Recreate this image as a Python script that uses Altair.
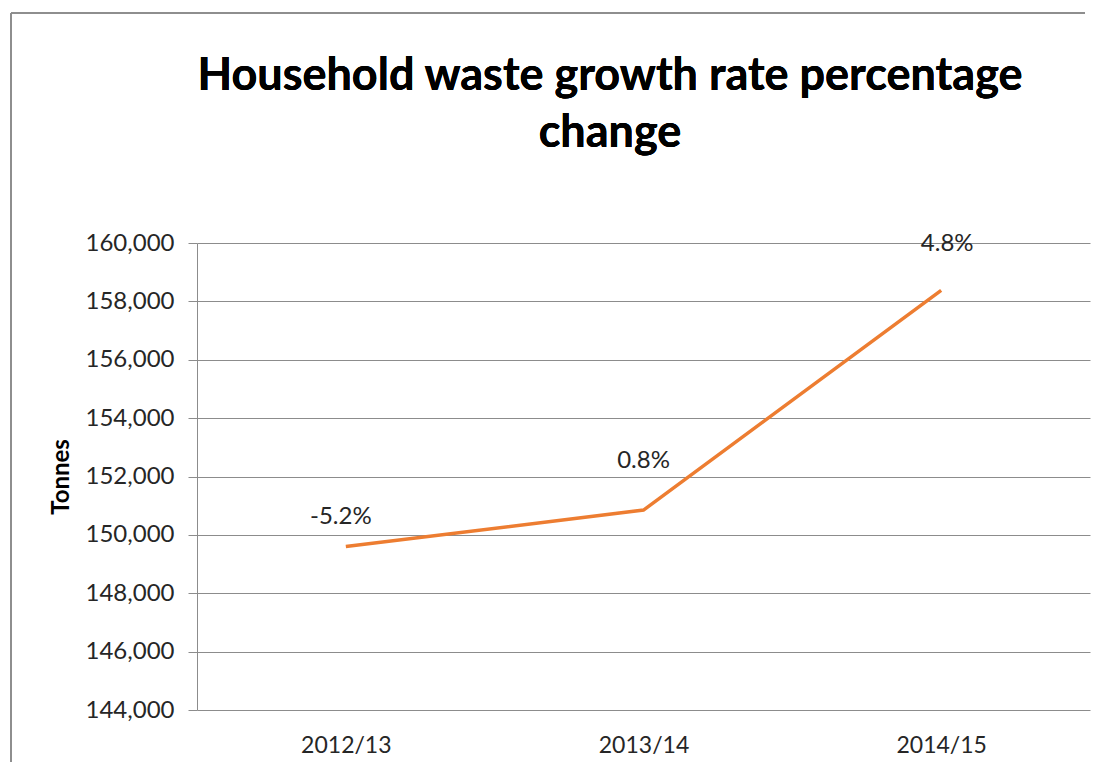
import altair as alt
import pandas as pd

years = ["2012/13", "2013/14", "2014/15"]
tonnes = [149600, 150850, 158380]
growth_labels = ["-5.2%", "0.8%", "4.8%"]
title_lines = ["Household waste growth rate percentage", "change"]

df = pd.DataFrame({"year": years, "tonnes": tonnes, "label": growth_labels})

FONT = "Lato"
W, H = 893, 467

x_enc = alt.X("year:N", sort=years,
              scale=alt.Scale(type="point", padding=0.5),
              axis=alt.Axis(title=None, domain=False, ticks=False, grid=False,
                            labelFontSize=23, labelFont=FONT, labelColor="#262626",
                            labelPadding=24, labelAngle=0))
y_enc = alt.Y("tonnes:Q",
              scale=alt.Scale(domain=[144000, 160000], nice=False, zero=False),
              axis=alt.Axis(title="Tonnes", values=list(range(144000, 160001, 2000)),
                            format=",d", labelFontSize=24, labelFont=FONT,
                            labelColor="#262626", labelPadding=14,
                            tickSize=9, tickColor="#8c8c8c", domainColor="#8c8c8c",
                            gridColor="#8c8c8c", gridWidth=1,
                            titleFont=FONT, titleFontSize=24, titleFontWeight="bold",
                            titleColor="#000000", titlePadding=12))

# outer chart frame: top and left edges only (the others lie outside the picture)
border_top = alt.Chart(df).mark_rule(stroke="#8c8c8c", strokeWidth=1.5, clip=False).encode(
    x=alt.value(-186), x2=alt.value(W - 5), y=alt.value(-230))
border_left = alt.Chart(df).mark_rule(stroke="#8c8c8c", strokeWidth=1.5, clip=False).encode(
    x=alt.value(-186), y=alt.value(-230), y2=alt.value(H + 52))

title1 = alt.Chart(df).mark_text(text=title_lines[0], font=FONT, fontSize=45,
                                 fontWeight="bold", color="#000000",
                                 baseline="middle", align="center").encode(
    x=alt.value(413), y=alt.value(-167))
title2 = alt.Chart(df).mark_text(text=title_lines[1], font=FONT, fontSize=45,
                                 fontWeight="bold", color="#000000",
                                 baseline="middle", align="center").encode(
    x=alt.value(413), y=alt.value(-110))

line = alt.Chart(df).mark_line(color="#ED7D31", strokeWidth=3.5).encode(x=x_enc, y=y_enc)

offsets = [(-5, -30), (0, -49), (6, -46)]
texts = []
for yr, (dx, dy) in zip(years, offsets):
    texts.append(
        alt.Chart(df).transform_filter(alt.datum.year == yr)
        .mark_text(font=FONT, fontSize=24, color="#262626", dx=dx, dy=dy)
        .encode(x=x_enc, y=y_enc, text="label:N")
    )

chart = alt.layer(border_top, border_left, title1, title2, line, *texts).properties(
    width=W, height=H,
    autosize=alt.AutoSizeParams(type="none"),
    padding={"left": 189, "top": 235, "right": 7, "bottom": 55},
).configure_view(stroke=None).configure_axis(labelFont=FONT)

chart.save("out.html", embed_options={"renderer": "svg", "actions": False})
